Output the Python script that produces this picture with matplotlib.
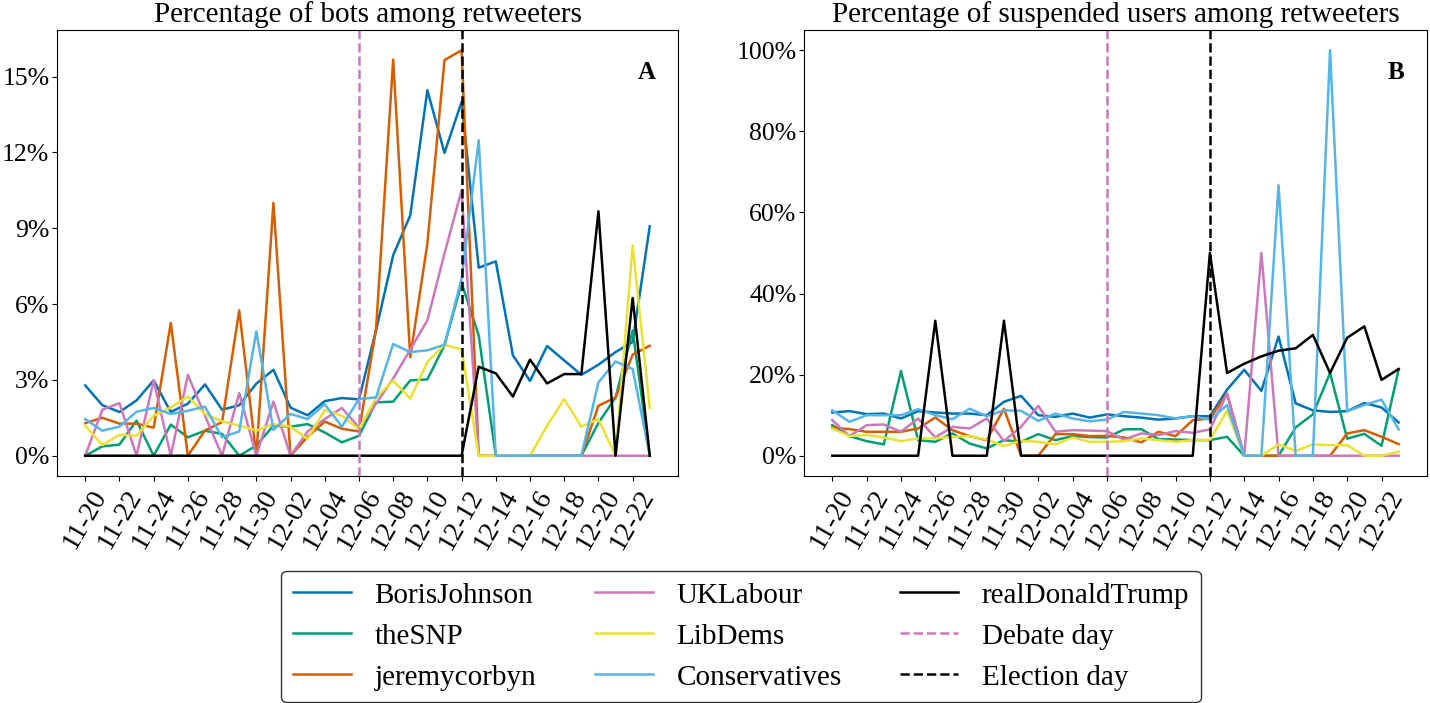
import matplotlib
matplotlib.use("Agg")
import matplotlib.pyplot as plt
import numpy as np
import pandas as pd
from matplotlib.ticker import PercentFormatter, MultipleLocator

plt.rcParams['font.family'] = ['Liberation Serif', 'DejaVu Serif']

dates = pd.date_range("2019-11-20", "2019-12-23", freq="D")
debate_day = pd.Timestamp("2019-12-06")
election_day = pd.Timestamp("2019-12-12")

accounts = ["BorisJohnson", "theSNP", "jeremycorbyn", "UKLabour", "LibDems",
            "Conservatives", "realDonaldTrump"]
colors = ["#0173b2", "#029e73", "#d55e00", "#cc78bc", "#ece133", "#56b4e9", "#000000"]

# Panel A: percentage of bots among retweeters
boris_bots = [2.78, 2.0, 1.73, 2.19, 2.98, 1.73, 2.06, 2.82, 1.82, 2.0, 2.85, 3.4, 1.9, 1.6,
              2.16, 2.28, 2.23, 4.96, 7.93, 9.51, 14.46, 11.98, 14.0, 7.44, 7.69, 3.97, 2.96,
              4.34, 3.77, 3.2, 3.6, 4.1, 4.5, 9.08]
snp_bots = [0, 0.37, 0.44, 1.39, 0, 1.23, 0.73, 0.99, 0.86, 0, 0.4, 1.19, 1.15, 1.25, 0.92,
            0.53, 0.79, 2.11, 2.14, 2.98, 3.02, 4.37, 6.83, 4.76, 0, 0, 0, 0, 0, 0, 1.3, 2.3,
            4.95, 0]
corbyn_bots = [1.29, 1.5, 1.27, 1.27, 1.11, 5.25, 0, 1.0, 1.33, 5.75, 0, 10.0, 0, 0.75, 1.35,
               1.07, 0.96, 5.0, 15.67, 3.9, 8.4, 15.65, 16.04, 0, 0, 0, 0, 0, 0, 0, 1.98, 2.3,
               4.0, 4.35]
labour_bots = [0, 1.82, 2.08, 0, 2.97, 0, 3.2, 1.58, 0, 2.48, 0, 2.14, 0, 0.96, 1.45, 1.89,
               1.12, 2.06, 3.05, 4.2, 5.36, 8.0, 10.5, 0, 0, 0, 0, 0, 0, 0, 0, 0, 0, 0]
libdems_bots = [1.19, 0.42, 0.83, 0.79, 1.58, 1.91, 2.34, 1.65, 1.36, 1.19, 0.99, 1.25, 1.15,
                0.66, 1.81, 1.58, 1.06, 2.3, 2.97, 2.26, 3.71, 4.39, 4.2, 0, 0, 0, 0, 1.19,
                2.24, 1.15, 1.45, 0, 8.32, 1.89]
cons_bots = [1.45, 0.99, 1.15, 1.74, 1.89, 1.65, 1.78, 1.94, 0.73, 0.96, 4.92, 1.02, 1.65, 1.45,
             2.04, 1.15, 2.24, 2.31, 4.42, 4.1, 4.17, 4.39, 7.0, 12.48, 0, 0, 0, 0, 0, 0, 2.9,
             3.73, 3.43, 0]
trump_bots = [0, 0, 0, 0, 0, 0, 0, 0, 0, 0, 0, 0, 0, 0, 0, 0, 0, 0, 0, 0, 0, 0, 0, 3.52, 3.26,
              2.34, 3.8, 2.86, 3.23, 3.23, 9.67, 0, 6.24, 0]

# Panel B: percentage of suspended users among retweeters
boris_susp = [10.66, 11.0, 10.25, 10.4, 9.18, 11.0, 10.66, 10.4, 10.4, 10.0, 13.3, 14.75, 10.0,
              9.6, 10.4, 9.4, 10.2, 9.75, 9.4, 8.9, 9.2, 9.75, 9.75, 16.3, 21.2, 16.0, 29.4,
              12.9, 11.2, 10.8, 11.0, 13.0, 11.9, 8.2]
snp_susp = [7.54, 4.84, 3.6, 2.8, 20.9, 3.85, 3.44, 5.5, 3.0, 1.8, 3.85, 3.44, 5.33, 3.85, 4.84,
            4.6, 4.5, 6.5, 6.56, 4.1, 4.0, 3.85, 3.85, 4.67, 0, 0, 0, 7.0, 10.2, 20.4, 4.2, 5.4,
            2.45, 21.3]
corbyn_susp = [6.97, 6.56, 5.9, 5.9, 5.9, 6.72, 9.43, 6.3, 4.84, 3.85, 11.6, 0, 0, 5.33, 5.33,
               4.84, 4.9, 4.5, 3.3, 5.9, 4.84, 8.77, 9.18, 15.3, 0, 0, 0, 0, 0, 0, 5.5, 6.3,
               4.67, 2.87]
labour_susp = [8.77, 4.84, 7.54, 7.7, 5.9, 9.18, 4.5, 7.13, 6.72, 9.18, 3.6, 7.13, 12.3, 5.9,
               6.3, 6.2, 6.07, 4.0, 5.5, 5.1, 6.07, 5.66, 6.5, 15.3, 0, 50.0, 0, 0, 0, 0, 0, 0,
               0, 0]
libdems_susp = [6.72, 4.84, 5.1, 4.5, 3.6, 4.26, 4.26, 4.67, 4.84, 4.0, 2.38, 3.69, 3.44, 2.8,
                4.5, 3.44, 3.44, 3.6, 4.26, 3.85, 3.44, 3.85, 3.85, 11.07, 0, 0, 2.8, 1.2, 2.8,
                2.6, 2.6, 0, 0, 1.0]
cons_susp = [11.2, 8.36, 10.0, 10.0, 10.0, 11.5, 10.0, 9.0, 11.6, 9.75, 11.2, 11.07, 8.6, 10.4,
             9.18, 8.5, 8.9, 10.8, 10.4, 10.0, 9.2, 9.75, 8.9, 12.5, 0, 0, 66.7, 0, 0, 100.0,
             11.0, 12.5, 13.85, 6.5]
trump_susp = [0, 0, 0, 0, 0, 0, 33.3, 0, 0, 0, 33.3, 0, 0, 0, 0, 0, 0, 0, 0, 0, 0, 0, 50.0,
              20.4, 22.7, 24.5, 25.9, 26.5, 29.8, 20.4, 29.1, 31.9, 18.7, 21.4]

bots = [boris_bots, snp_bots, corbyn_bots, labour_bots, libdems_bots, cons_bots, trump_bots]
susp = [boris_susp, snp_susp, corbyn_susp, labour_susp, libdems_susp, cons_susp, trump_susp]

fig = plt.figure(figsize=(14.3, 7.03), dpi=100)
axA = fig.add_axes([57/1430, 1-476/703, 621/1430, 446/703])
axB = fig.add_axes([804/1430, 1-476/703, 623/1430, 446/703])

tick_dates = dates[::2]
tick_labels = [d.strftime("%m-%d") for d in tick_dates]

for ax, series, title, panel, step in [
        (axA, bots, "Percentage of bots among retweeters", "A", 3),
        (axB, susp, "Percentage of suspended users among retweeters", "B", 20)]:
    for name, vals, c in zip(accounts, series, colors):
        ax.plot(dates, vals, color=c, lw=1.8, label=name)
    ax.axvline(debate_day, color="#cc78bc", ls="--", lw=1.8, label="Debate day")
    ax.axvline(election_day, color="black", ls="--", lw=1.8, label="Election day")
    ax.set_xticks(tick_dates)
    ax.set_xticklabels(tick_labels, rotation=60, fontsize=20)
    ax.yaxis.set_major_locator(MultipleLocator(step))
    ax.yaxis.set_major_formatter(PercentFormatter(decimals=0))
    ax.tick_params(axis="y", labelsize=18.5, pad=2)
    ax.set_title(title, fontsize=21)
    ax.text(0.95, 0.905, panel, transform=ax.transAxes, fontsize=18,
            fontweight="bold", ha="center", va="center")

handles, labels = axA.get_legend_handles_labels()
fig.legend(handles, labels, loc="upper center", ncol=3, fontsize=21,
           bbox_to_anchor=(741/1430, 1-556/703), frameon=True, edgecolor="black",
           fancybox=True)

fig.savefig("out.png", dpi=100)
